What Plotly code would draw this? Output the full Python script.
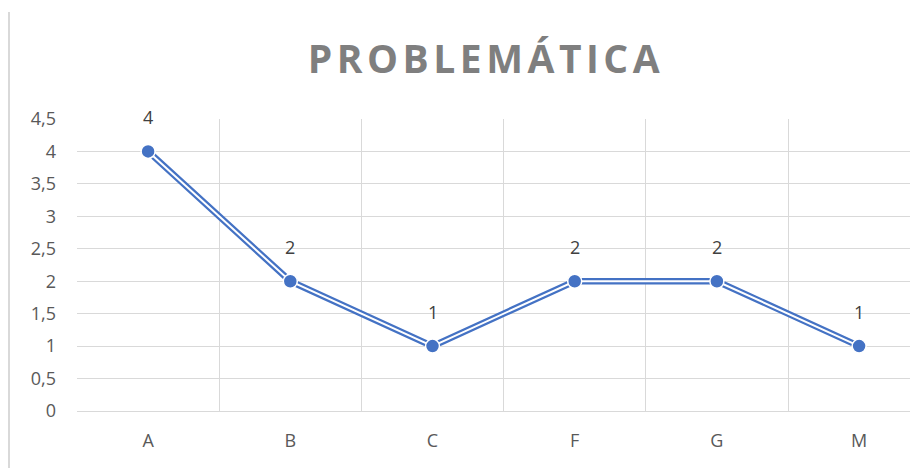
import plotly.graph_objects as go

categories = ["A", "B", "C", "F", "G", "M"]
values = [4, 2, 1, 2, 2, 1]
y_ticks = [0, 0.5, 1, 1.5, 2, 2.5, 3, 3.5, 4, 4.5]

BLUE = "#4472C4"
GRID = "#D9D9D9"
TXT = "#595959"

# page body has an 8px margin; compensate so the figure lands where the reference is
OFF = 8
W, H = 918 - OFF, 468 - OFF
L, R, T, B = 77 - OFF, 0, 119 - OFF, 57

fig = go.Figure()
# double line: thick blue + thin white core
fig.add_trace(go.Scatter(x=categories, y=values, mode="lines",
                         line=dict(color=BLUE, width=6.5), hoverinfo="skip", showlegend=False))
fig.add_trace(go.Scatter(x=categories, y=values, mode="lines",
                         line=dict(color="white", width=2), hoverinfo="skip", showlegend=False))
fig.add_trace(go.Scatter(x=categories, y=values, mode="markers",
                         marker=dict(color=BLUE, size=14, line=dict(color="white", width=1.5)),
                         showlegend=False))

for c, v in zip(categories, values):
    fig.add_annotation(x=c, y=v, text=str(v), showarrow=False, yshift=34,
                       font=dict(family="Open Sans", size=18, color="#404040"))

plot_w = W - L - R
plot_h = H - T - B
fig.update_layout(
    width=W, height=H,
    margin=dict(l=L, r=R, t=T, b=B),
    paper_bgcolor="white", plot_bgcolor="white",
    separators=",.",
    title=dict(text="<b>PROBLEMÁTICA</b>", xref="paper", x=(486 - 77) / plot_w, xanchor="center",
               yref="container", y=1 - (59 - OFF) / H, yanchor="middle",
               font=dict(family="Open Sans", size=39, color="#7F7F7F")),
    font=dict(family="Open Sans", color=TXT),
)
fig.update_xaxes(type="category", range=[-0.5, -0.5 + (918 - 77) / 142.2],
                 tickson="boundaries", showgrid=True, gridcolor=GRID, gridwidth=1,
                 showline=True, linecolor=GRID, linewidth=1, ticks="",
                 tickfont=dict(family="Open Sans", size=18, color=TXT),
                 ticklabelstandoff=13, zeroline=False, fixedrange=True)
fig.update_yaxes(range=[0, 4.5], tickvals=y_ticks, showgrid=True, gridcolor=GRID, gridwidth=1,
                 showline=False, zeroline=False, ticks="",
                 tickfont=dict(family="Open Sans", size=18, color=TXT),
                 ticklabelstandoff=20, fixedrange=True)

# left border fragment
fig.add_shape(type="line", xref="paper", yref="paper",
              x0=(1 - L) / plot_w, x1=(1 - L) / plot_w,
              y0=-B / plot_h, y1=1 + (T - 4) / plot_h,
              line=dict(color=GRID, width=2))

# Excel-style widened letter spacing for the title
post = ("document.querySelectorAll('.gtitle').forEach(function(e){"
        "e.setAttribute('letter-spacing','4.5px');});")

fig.write_html("out.html", post_script=post)
